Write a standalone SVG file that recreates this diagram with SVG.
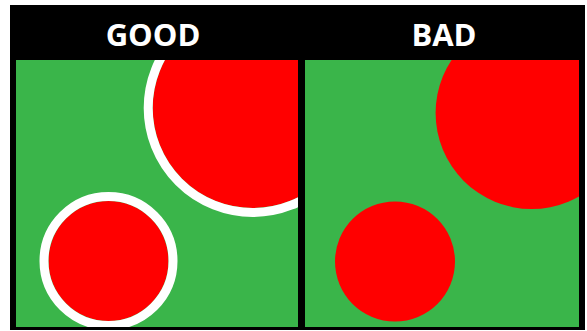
<svg xmlns="http://www.w3.org/2000/svg" width="587" height="331" viewBox="0 0 587 331">
  <style>
    .title { font-family: "Open Sans", "Liberation Sans", sans-serif; font-weight: bold; font-size: 31px; fill: #ffffff; text-anchor: middle; }
    .panel { fill: #3ab54a; }
    .red { fill: #ff0000; }
    .ring { fill: none; stroke: #ffffff; stroke-width: 9; }
  </style>
  <defs>
    <clipPath id="clipGood"><rect x="16" y="60" width="282" height="267"/></clipPath>
    <clipPath id="clipBad"><rect x="305" y="60" width="274" height="267"/></clipPath>
  </defs>
  <rect id="frame" x="10" y="5" width="575" height="325" fill="#000000"/>
  <g id="good">
    <text class="title" x="153" y="46">GOOD</text>
    <rect class="panel" x="16" y="60" width="282" height="267"/>
    <g clip-path="url(#clipGood)">
      <circle class="red" cx="252.7" cy="108" r="100"/>
      <circle class="ring" cx="252.7" cy="108" r="104.5"/>
      <circle class="red" cx="108.5" cy="261" r="60"/>
      <circle class="ring" cx="108.5" cy="261" r="64.5"/>
    </g>
  </g>
  <g id="bad">
    <text class="title" x="444" y="46">BAD</text>
    <rect class="panel" x="305" y="60" width="274" height="267"/>
    <g clip-path="url(#clipBad)">
      <circle class="red" cx="531.6" cy="113" r="96"/>
      <circle class="red" cx="395" cy="261.5" r="60"/>
    </g>
  </g>
  <g id="connectors"/>
</svg>
